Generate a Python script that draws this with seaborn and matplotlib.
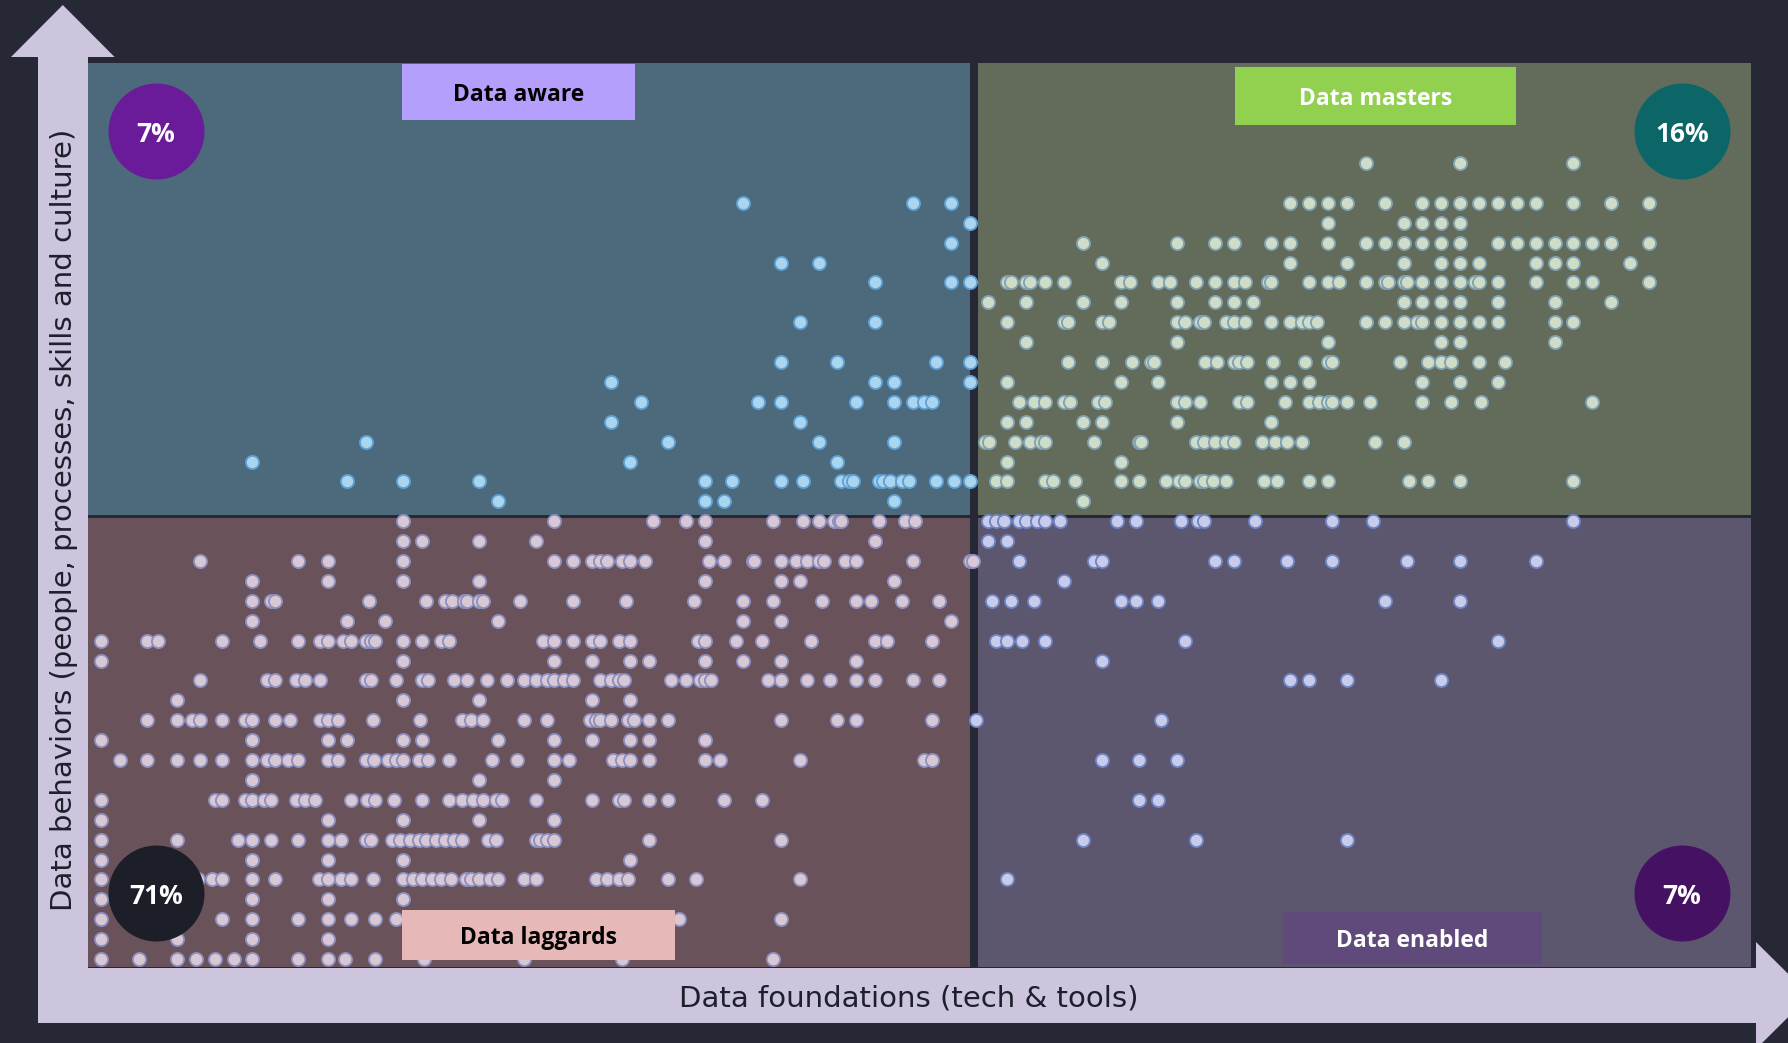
import matplotlib
matplotlib.use("Agg")
import matplotlib.pyplot as plt
from matplotlib.patches import Rectangle, Polygon
import pandas as pd
import seaborn as sns

# data foundations score of each respondent, one list per data behaviours level
b40 = [67, 72, 78]
b38 = [34, 43, 45, 63, 64, 65, 66, 68, 70, 71, 72, 73, 74, 75, 76, 78, 80, 82]
b37 = [46, 65, 69, 70, 71, 72]
b36 = [45, 52, 57, 59, 60, 62, 63, 65, 67, 68, 69, 70, 71, 72, 74, 75, 76, 77, 78, 79, 80, 82]
b35 = [36, 38, 53, 63, 66, 69, 71, 72, 73, 76, 77, 78, 81]
b34 = [41, 45, 46, 48, 48.2, 49, 49.2, 50, 51, 54, 54.5, 56, 56.6, 58, 59, 60, 60.6, 61.8, 62, 64,
       65, 65.6, 67, 68, 68.2, 69, 69.2, 70, 71, 72, 72.8, 73, 74, 76, 78, 79, 82]
b33 = [47, 49, 52, 54, 57, 59, 60, 61, 69, 70, 71, 72, 74, 77, 80]
b32 = [37, 41, 48, 51, 51.2, 53, 53.4, 57, 57.4, 58.2, 58.4, 59.6, 60, 60.6, 62, 63, 63.6, 64, 64.4,
       67, 68, 69, 69.7, 70, 71, 72, 73, 74, 77, 78]
b31 = [49, 57, 65, 71, 72, 77]
b30 = [36, 39, 44.2, 46, 51.2, 53, 54.6, 55.6, 55.8, 58.5, 59.1, 60, 60.3, 60.7, 62.1, 63.8, 65, 65.2,
       68.8, 70.3, 71, 71.5, 73, 74.4]
b29 = [27, 41, 42, 46, 48, 54, 56, 62, 63, 64, 70, 72, 74]
b28 = [28.6, 34.8, 36, 40, 42, 43, 43.6, 44, 48.6, 49.4, 50, 51, 51.3, 52.8, 53.2, 57, 57.4, 58.2,
       60.3, 60.7, 62.7, 64, 64.5, 65, 65.2, 66, 67.2, 70, 71.5, 73.1, 79]
b27 = [27, 37, 48, 49, 52, 53, 57, 62]
b26 = [14, 30, 38, 42, 46.8, 47.05, 48.4, 49.2, 49.8, 50, 52.6, 55, 55.1, 58, 58.4, 59, 59.6, 60,
       61.5, 62.2, 62.8, 63.6, 67.5, 69]
b25 = [8, 28, 39, 48, 54]
b24 = [13, 16, 20, 32, 33.4, 36, 37.2, 39.2, 39.6, 39.8, 41.2, 41.4, 41.8, 42.4, 42.8, 44.2, 45.2, 46,
       47.4, 48, 50, 50.4, 51.6, 54, 55, 56.4, 57.1, 57.4, 58.2, 58.4, 58.9, 59.6, 61.6, 62.3, 64, 65,
       69.3, 70.3, 72, 78]
b23 = [21, 32, 33, 42, 52]
b22 = [16, 24, 29.2, 31, 32, 35.6, 37.2, 38, 38.8, 39.1, 39.2, 41.2, 42.6, 43.1, 47, 47.4, 47.8, 48.6,
       49, 49.6, 50, 50.8, 53.8, 54.8, 57.2, 58.1, 58.4, 61.1, 65.2, 67.4, 78]
b21 = [16, 17, 20, 23, 32, 41, 47, 48]
b20 = [5.2, 10.4, 12, 16, 24, 25, 26, 26.4, 26.8, 27.6, 28, 28.8, 32.2, 33, 34.5, 34.6, 36, 36.8, 37.4,
       38, 38.3, 39.4, 40, 43, 46, 46.2, 48.6, 52.6, 53, 59, 60, 62.8, 65.2, 69.2, 72, 76]
b19 = [8, 12, 16, 20, 32, 36, 37, 42, 51]
b18 = [8, 9, 9.2, 14.2, 17.2, 18.2, 18.6, 19.2, 19.35, 20, 20.2, 22.2, 25, 27.8, 31.4, 34, 35.6, 38.2,
       40, 40.8, 42.4, 44.4, 47.2, 48.2, 49.4, 54, 54.8, 56, 68, 72]
b17 = [8, 13, 15, 21, 34, 36, 45]
b16 = [0, 2.4, 3, 6.4, 8.4, 10.4, 11.6, 12, 12.8, 13.2, 14, 14.3, 14.5, 16, 17, 18, 18.4, 23.4, 24, 25,
       26, 26.4, 27.4, 28, 31.6, 32, 33.6, 35, 37.6, 41, 41.6, 44, 47.4, 48, 48.8, 50, 57.4, 74]
b15 = [0, 16, 24, 26, 28, 29, 32, 34, 36, 40, 53]
b14 = [5.2, 8.75, 9.2, 10.3, 10.8, 11.6, 14, 14.3, 15.6, 17, 17.3, 18.7, 19.35, 20.45, 21.5, 22.4, 23,
       23.6, 24, 24.5, 25, 26.4, 27, 27.4, 27.7, 30.2, 31, 31.7, 32, 32.3, 35.3, 36, 37.4, 38.6, 40, 41,
       43, 44.4, 63, 64, 66, 71]
b13 = [4, 16, 20, 26, 28]
b12 = [2.4, 4, 4.8, 5.2, 6.4, 7.6, 8, 9.2, 10, 11.6, 12, 12.55, 14.4, 16.9, 19.1, 19.6, 20.2, 22.4,
       23.6, 25.9, 26.2, 26.4, 27, 27.9, 28.2, 29, 30, 36, 39, 40, 44, 46.35, 56.15]
b11 = [0, 8, 12, 13, 16, 17, 21, 24, 26, 28, 29, 32]
b10 = [1, 2.4, 4, 5.2, 6.4, 8, 8.75, 9.2, 9.9, 10.4, 12, 12.55, 14, 14.45, 15.2, 15.6, 16, 16.8, 17.3,
       18.4, 20.7, 22, 24, 24.8, 27.1, 27.6, 28, 29, 32, 32.8, 37, 43.6, 44, 53, 55, 57]
b09 = [8, 20, 24]
b08 = [0, 6, 6.4, 7.6, 8, 8.6, 9, 10.3, 10.8, 11.3, 13.2, 14.05, 14.5, 15.5, 17, 18.4, 19.1, 19.7,
       20.2, 20.9, 21.2, 23, 26, 27.4, 27.7, 29, 30, 33, 35, 55, 56]
b07 = [0, 12, 16, 20, 24]
b06 = [0, 4, 7.25, 8, 9, 10.4, 12, 12.7, 14, 14.3, 15.4, 15.8, 16.35, 16.8, 17.2, 17.7, 18.2, 18.7,
       19.1, 20.5, 20.9, 23, 23.25, 23.6, 24, 29, 36, 52, 58, 66]
b05 = [0, 8, 12, 16, 28]
b04 = [0, 5.1, 5.85, 6.4, 8, 9.2, 11.5, 12, 12.7, 13.2, 14.4, 16, 16.5, 17, 17.5, 18, 18.5, 19.3, 19.6,
       20, 20.6, 21, 22.4, 23, 26.2, 26.8, 27.4, 27.9, 30, 31.5, 37, 48]
b03 = [0, 8, 12, 16]
b02 = [0, 4, 6.4, 8, 10.4, 12, 13.2, 14.5, 15.6, 30.6, 36]
b01 = [0, 4, 8, 12]
b00 = [0, 2, 4, 5, 6, 7, 8, 10.4, 12, 12.9, 14.5, 17.1, 22.4, 27.6, 35.6]

quadrant_names = ["Data aware", "Data masters", "Data laggards", "Data enabled"]
quadrant_share = ["7%", "16%", "71%", "7%"]
split_x, split_y = 46.2, 22.25

levels = {40: b40, 38: b38, 37: b37, 36: b36, 35: b35, 34: b34, 33: b33, 32: b32, 31: b31,
          30: b30, 29: b29, 28: b28, 27: b27, 26: b26, 25: b25, 24: b24, 23: b23, 22: b22,
          21: b21, 20: b20, 19: b19, 18: b18, 17: b17, 16: b16, 15: b15, 14: b14, 13: b13,
          12: b12, 11: b11, 10: b10, 9: b09, 8: b08, 7: b07, 6: b06, 5: b05, 4: b04, 3: b03,
          2: b02, 1: b01, 0: b00}
df = pd.DataFrame([(x, y) for y, xs in levels.items() for x in xs],
                  columns=["foundations", "behaviors"])


def quadrant(row):
    top = row.behaviors > split_y
    right = row.foundations > split_x
    if top:
        return "Data masters" if right else "Data aware"
    return "Data enabled" if right else "Data laggards"


df["quadrant"] = df.apply(quadrant, axis=1)

# styling
BG = "#262836"
ARROW = "#CDC4DE"
quad_fill = {"Data aware": "#4C6A7B", "Data masters": "#636B5B",
             "Data laggards": "#6A525A", "Data enabled": "#5C576E"}
dot_face = {"Data aware": "#A9D5EF", "Data masters": "#CEDCC8",
            "Data laggards": "#D8C7D5", "Data enabled": "#C9CBEA"}
dot_edge = {"Data aware": "#5E9FD4", "Data masters": "#7FA1B1",
            "Data laggards": "#8C8FBD", "Data enabled": "#6C84C4"}
box_fill = {"Data aware": "#B49FFC", "Data masters": "#92D050",
            "Data laggards": "#E6B9B8", "Data enabled": "#604A7B"}
box_text = {"Data aware": "black", "Data masters": "white",
            "Data laggards": "black", "Data enabled": "white"}
badge_fill = {"Data aware": "#6A1B9A", "Data masters": "#0C6668",
              "Data laggards": "#1C1E28", "Data enabled": "#451263"}

W, H = 1788, 1043
fig = plt.figure(figsize=(W / 100, H / 100), dpi=100, facecolor=BG)

# background layer in pixel coordinates: axis arrows and titles
bg = fig.add_axes([0, 0, 1, 1], zorder=0)
bg.set_xlim(0, W)
bg.set_ylim(H, 0)
bg.axis("off")
bg.add_patch(Rectangle((37.6, 57), 50.4, 966, color=ARROW, lw=0))
bg.add_patch(Rectangle((37.6, 968), 1718.4, 55, color=ARROW, lw=0))
bg.add_patch(Polygon([(11, 57), (62.8, 5), (114.6, 57)], closed=True, color=ARROW, lw=0))
bg.add_patch(Polygon([(1756, 942), (1810, 995.5), (1756, 1049)], closed=True, color=ARROW, lw=0))
bg.text(909, 998, "Data foundations (tech & tools)", ha="center", va="center",
        fontsize=21, color="#1E1F2C")
bg.text(64, 520, "Data behaviors (people, processes, skills and culture)", ha="center",
        va="center", rotation=90, fontsize=21, color="#1E1F2C")

# plot area
left, right, top, bottom = 88, 1751, 63, 967
ax = fig.add_axes([left / W, 1 - bottom / H, (right - left) / W, (bottom - top) / H], zorder=1)
ax.patch.set_alpha(0)


def to_data(px, py):
    return (px - 101.5) / 18.87, (959 - py) / 19.9


def add_rect(x0, y0, x1, y1, color, z):
    (a, b), (c, d) = to_data(x0, y1), to_data(x1, y0)
    ax.add_patch(Rectangle((a, b), c - a, d - b, color=color, lw=0, zorder=z))


add_rect(left, top, 970, 515, quad_fill["Data aware"], 0)
add_rect(978, top, right, 515, quad_fill["Data masters"], 0)
add_rect(left, 518, 970, bottom, quad_fill["Data laggards"], 0)
add_rect(978, 518, right, bottom, quad_fill["Data enabled"], 0)

for name in quadrant_names:
    sns.scatterplot(data=df[df.quadrant == name], x="foundations", y="behaviors",
                    color=dot_face[name], edgecolor=dot_edge[name], linewidth=1.3,
                    s=90, ax=ax, legend=False, zorder=3)
ax.set_xlim(-0.715, 87.41)
ax.set_ylim(-0.40, 45.03)
ax.axis("off")

boxes = {"Data aware": (402, 64, 635, 120), "Data masters": (1235, 67, 1516, 125),
         "Data laggards": (402, 910, 675, 960), "Data enabled": (1283, 912, 1542, 964)}
for name, (x0, y0, x1, y1) in boxes.items():
    add_rect(x0, y0, x1, y1, box_fill[name], 5)
    cx, cy = to_data((x0 + x1) / 2, (y0 + y1) / 2 + 3)
    ax.text(cx, cy, name, ha="center", va="center", fontsize=16.5, fontweight="bold",
            family="Open Sans", color=box_text[name], zorder=6)

badges = {"Data aware": (156, 131), "Data masters": (1682, 131),
          "Data laggards": (156, 893), "Data enabled": (1682, 893)}
for name, share in zip(quadrant_names, quadrant_share):
    bx, by = to_data(*badges[name])
    ax.scatter([bx], [by], s=(96 * 0.72) ** 2, color=badge_fill[name], lw=0, zorder=7)
    tx, ty = to_data(badges[name][0], badges[name][1] + 3)
    ax.text(tx, ty, share, ha="center", va="center", fontsize=19, fontweight="bold",
            family="Open Sans", color="white", zorder=8)

fig.savefig("out.png", dpi=100, facecolor=BG)
